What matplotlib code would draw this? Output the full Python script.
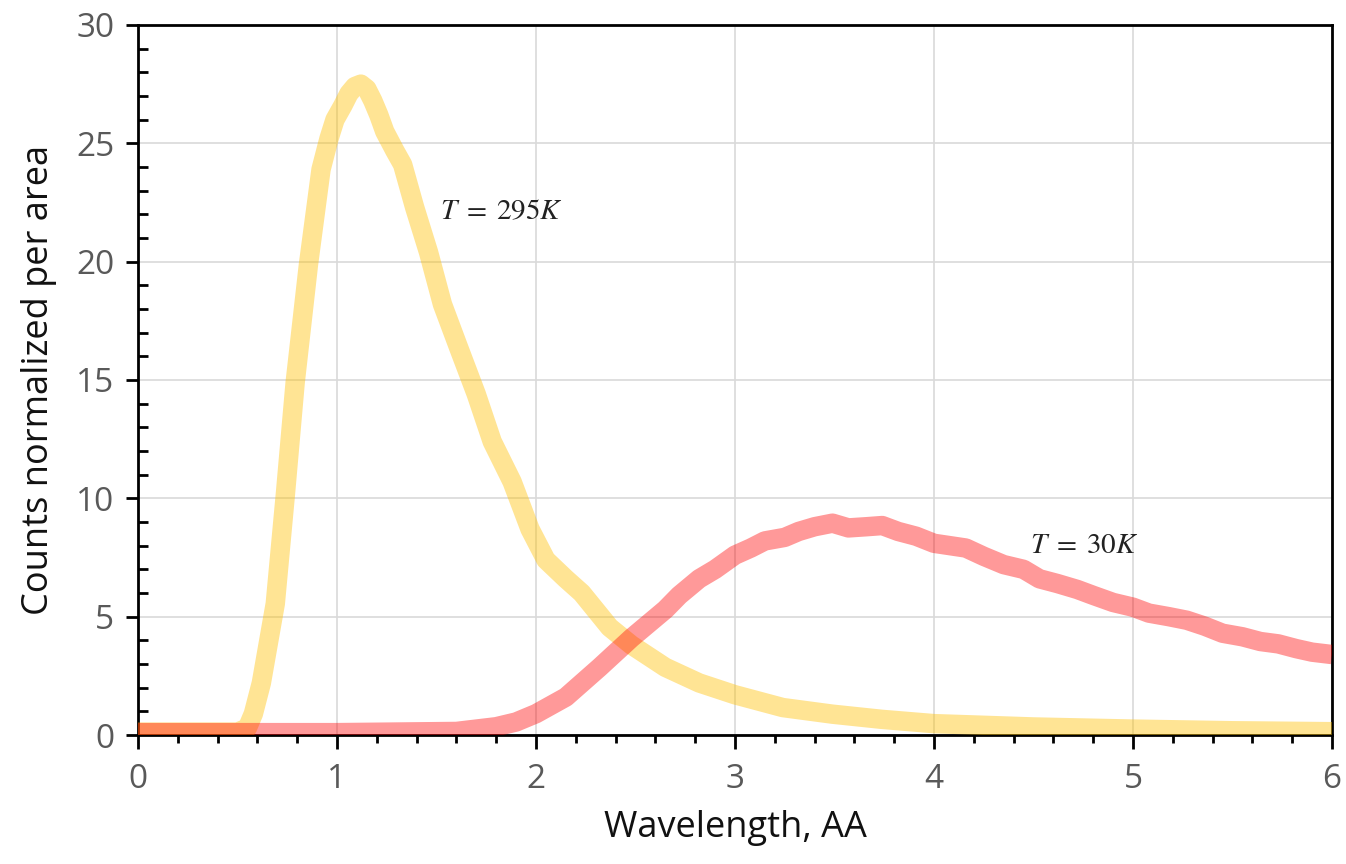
import numpy as np
import matplotlib
matplotlib.use("Agg")
import matplotlib.pyplot as plt
from matplotlib.ticker import MultipleLocator

# T = 295K curve
wl_295 = [0.0, 0.3, 0.5, 0.55, 0.58, 0.62, 0.69, 0.74, 0.79, 0.857, 0.92, 0.96, 0.99, 1.03,
          1.06, 1.09, 1.12, 1.15, 1.18, 1.21, 1.24, 1.29, 1.33, 1.39, 1.46, 1.53, 1.61,
          1.70, 1.78, 1.88, 1.97, 2.05, 2.15, 2.23, 2.37, 2.48, 2.65, 2.82, 3.0, 3.24,
          3.49, 3.74, 4.0, 4.5, 5.0, 5.5, 6.0]
cnt_295 = [0.12, 0.12, 0.12, 0.3, 0.9, 2.2, 5.55, 10.1, 14.9, 19.9, 23.9, 25.2, 26.0, 26.6,
           27.1, 27.4, 27.5, 27.3, 26.8, 26.2, 25.5, 24.7, 24.1, 22.3, 20.4, 18.2, 16.4,
           14.4, 12.4, 10.7, 8.7, 7.4, 6.6, 6.0, 4.55, 3.8, 2.86, 2.2, 1.7, 1.16,
           0.88, 0.66, 0.48, 0.34, 0.25, 0.18, 0.14]

# T = 30K curve
wl_30 = [0.0, 1.0, 1.6, 1.8, 1.9, 2.0, 2.15, 2.32, 2.48, 2.65, 2.72, 2.82, 2.9,
         3.0, 3.08, 3.15, 3.25, 3.32, 3.4, 3.49, 3.57, 3.66, 3.74, 3.82, 3.91, 4.0,
         4.08, 4.16, 4.25, 4.35, 4.45, 4.53, 4.62, 4.72, 4.8, 4.9, 5.0, 5.08, 5.18,
         5.27, 5.36, 5.45, 5.55, 5.64, 5.73, 5.82, 5.9, 6.0]
cnt_30 = [0.1, 0.1, 0.15, 0.35, 0.55, 0.9, 1.6, 2.86, 4.1, 5.3, 5.9, 6.6, 7.0,
          7.6, 7.9, 8.2, 8.35, 8.6, 8.8, 8.95, 8.75, 8.8, 8.85, 8.6, 8.4, 8.1,
          8.0, 7.9, 7.55, 7.2, 7.0, 6.6, 6.4, 6.15, 5.9, 5.6, 5.4, 5.15, 5.0,
          4.85, 4.6, 4.3, 4.15, 3.95, 3.85, 3.65, 3.5, 3.4]

labels = ["$T\\;=\\;295K$", "$T\\;=\\;30K$"]
label_pos = [(1.52, 22.1), (4.48, 8.0)]

plt.rcParams["font.family"] = ["Open Sans", "DejaVu Sans"]
plt.rcParams["mathtext.fontset"] = "stix"

fig = plt.figure(figsize=(13.46, 8.64), dpi=100)
ax = fig.add_axes([0.1025, 0.1493, 0.8871, 0.8218])

ax.plot(wl_295, cnt_295, color="#FFC000", alpha=0.42, lw=14, solid_capstyle="butt",
        solid_joinstyle="round", zorder=3)
ax.plot(wl_30, cnt_30, color="#FF0000", alpha=0.40, lw=14, solid_capstyle="butt",
        solid_joinstyle="round", zorder=4)

for txt, (tx, ty) in zip(labels, label_pos):
    ax.text(tx, ty, txt, fontsize=21, color="#222222", va="center", ha="left", zorder=5)

ax.set_xlim(0, 6)
ax.set_ylim(0, 30)
ax.xaxis.set_major_locator(MultipleLocator(1))
ax.xaxis.set_minor_locator(MultipleLocator(0.2))
ax.yaxis.set_major_locator(MultipleLocator(5))
ax.yaxis.set_minor_locator(MultipleLocator(1))

ax.grid(True, which="major", color="#D9D9D9", lw=1.2, zorder=0)
ax.set_axisbelow(True)

for s in ax.spines.values():
    s.set_color("black")
    s.set_linewidth(2)

ax.tick_params(axis="x", which="major", direction="out", length=10, width=2,
               labelsize=24, labelcolor="#595959", pad=10)
ax.tick_params(axis="x", which="minor", direction="out", length=6, width=2)
ax.tick_params(axis="y", which="major", direction="out", length=9, width=2,
               labelsize=24, labelcolor="#595959", pad=8)
ax.tick_params(axis="y", which="minor", direction="in", length=7, width=2)

ax.set_xlabel("Wavelength, AA", fontsize=26, color="#111111", labelpad=10)
ax.set_ylabel("Counts normalized per area", fontsize=26, color="#111111", labelpad=14)

fig.savefig("out.png", dpi=100)
